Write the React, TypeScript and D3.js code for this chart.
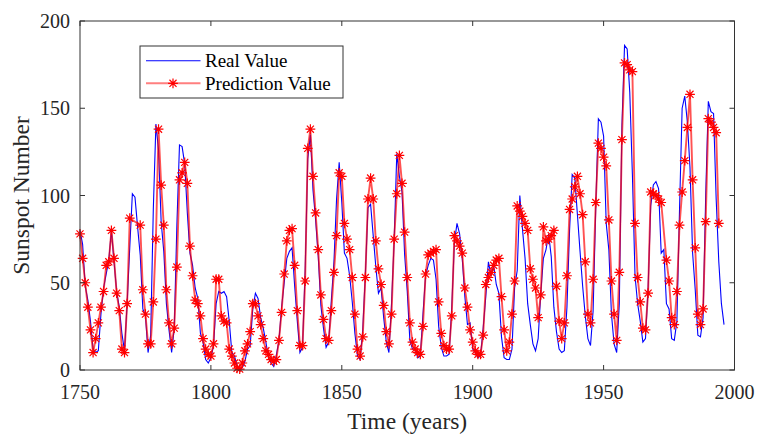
import React from 'react';
import * as d3 from 'd3';

// ---- data ----
const realStartYear = 1750;
const realValues = [
  80, 72, 48, 40, 28, 12, 10, 11, 32, 47, 55, 63, 80, 62, 45, 36, 21, 11, 38, 70,
  101, 99, 82, 66, 35, 31, 10, 20, 92, 141, 126, 85, 68, 38, 23, 10, 24, 83, 129, 128,
  118, 90, 67, 60, 47, 41, 21, 16, 6, 4, 7, 14, 38, 45, 44, 45, 42, 28, 10, 8,
  2.5, 0, 1.4, 5, 12, 14, 35, 44, 41, 30, 24, 16, 7, 4, 2, 8.5, 17, 36, 50, 64,
  68, 70, 48, 28, 10, 13, 57, 121, 135, 103, 86, 65, 37, 24, 13, 16, 40, 62, 98, 119,
  96, 67, 64, 54, 39, 21, 8, 6, 23, 55, 93, 95, 77, 59, 44, 47, 30, 16, 10, 38,
  74, 124, 111, 102, 66, 45, 17, 12, 12, 7, 8, 32, 54, 60, 64, 63, 52, 25, 13, 8,
  8, 9, 36, 73, 84, 78, 64, 42, 26, 27, 12, 10, 7, 8, 24, 42, 62, 54, 60, 49,
  44, 19, 7, 6, 6, 12, 47, 57, 100, 81, 64, 38, 26, 15, 11, 18, 44, 64, 69, 78,
  65, 36, 22, 12, 10, 11, 36, 80, 112, 110, 89, 68, 48, 31, 18, 14, 34, 93, 144, 142,
  134, 84, 69, 32, 15, 10, 38, 140, 186, 184, 159, 112, 54, 38, 28, 16, 18, 47, 94, 106,
  108, 104, 67, 69, 38, 35, 18, 17, 28, 92, 150, 157, 142, 116, 67, 46, 20, 19, 30, 100,
  154, 148, 147, 98, 62, 38, 26,
];
const realYears = realValues.map((_, i) => realStartYear + i);

const predYears = [
  1750, 1751, 1752, 1753, 1754, 1755, 1756, 1757, 1758, 1759, 1760, 1761, 1762, 1763, 1764, 1765, 1766, 1767, 1768, 1769,
  1773, 1774, 1775, 1776, 1777, 1778, 1779, 1780, 1781, 1782, 1783, 1784, 1785, 1786, 1787, 1788, 1789, 1790, 1791, 1792,
  1793, 1794, 1795, 1796, 1797, 1798, 1799, 1800, 1801, 1802, 1803, 1804, 1805, 1806, 1807, 1808, 1809, 1810, 1811, 1812,
  1813, 1814, 1815, 1816, 1817, 1818, 1819, 1820, 1821, 1822, 1823, 1824, 1825, 1826, 1827, 1828, 1829, 1830, 1831, 1832,
  1833, 1834, 1835, 1836, 1837, 1838, 1839, 1840, 1841, 1842, 1843, 1844, 1845, 1846, 1847, 1848, 1849, 1850, 1851, 1852,
  1853, 1854, 1855, 1856, 1857, 1858, 1859, 1860, 1861, 1862, 1863, 1864, 1865, 1866, 1867, 1868, 1869, 1870, 1871, 1872,
  1873, 1874, 1875, 1876, 1877, 1878, 1879, 1880, 1881, 1882, 1883, 1884, 1885, 1886, 1887, 1888, 1889, 1890, 1891, 1892,
  1893, 1894, 1895, 1896, 1897, 1898, 1899, 1900, 1901, 1902, 1903, 1904, 1905, 1906, 1907, 1908, 1909, 1910, 1911, 1912,
  1913, 1914, 1915, 1916, 1917, 1918, 1919, 1920, 1921, 1922, 1923, 1924, 1925, 1926, 1927, 1928, 1929, 1930, 1931, 1932,
  1933, 1934, 1935, 1936, 1937, 1938, 1939, 1940, 1941, 1942, 1943, 1944, 1945, 1946, 1947, 1948, 1949, 1950, 1951, 1952,
  1953, 1954, 1955, 1956, 1957, 1958, 1959, 1960, 1961, 1962, 1963, 1964, 1965, 1966, 1967, 1968, 1969, 1970, 1971, 1972,
  1974, 1975, 1976, 1977, 1978, 1979, 1980, 1981, 1982, 1983, 1984, 1985, 1986, 1987, 1988, 1989, 1990, 1991, 1992, 1993,
  1994,
];
const predValues = [
  78, 64, 50, 36, 23, 10, 18, 27, 36, 45, 60, 62, 80, 64, 44, 34, 12, 10, 38, 87,
  83, 46, 32, 15, 15, 39, 75, 138, 106, 83, 46, 27, 15, 24, 59, 109, 113, 119, 107, 71,
  54, 40, 38, 31, 18, 12, 9, 8, 15, 52, 52, 31, 28, 27, 12, 8, 4, 1, 0.5, 4,
  11, 15, 22, 38, 38, 31, 26, 18, 11, 9, 6, 5, 6, 17, 33, 55, 74, 80, 81, 60,
  34, 14, 14, 51, 127, 138, 111, 90, 69, 43, 29, 18, 17, 34, 56, 77, 113, 111, 84, 75,
  69, 53, 32, 12, 8, 19, 53, 98, 110, 98, 74, 58, 49, 37, 22, 15, 32, 75, 101, 123,
  107, 79, 53, 27, 16, 12, 10, 9, 25, 55, 66, 67, 68, 69, 39, 21, 14, 12, 12, 31,
  77, 74, 71, 67, 47, 36, 23, 16, 11, 9, 9, 20, 49, 53, 56, 60, 63, 64, 42, 23,
  11, 16, 32, 51, 94, 91, 88, 84, 80, 58, 52, 47, 30, 43, 82, 74, 75, 77, 80, 48,
  28, 18, 27, 54, 92, 98, 105, 111, 101, 89, 62, 32, 27, 52, 96, 130, 127, 122, 117, 86,
  51, 32, 17, 56, 132, 176, 175, 172, 171, 84, 53, 39, 24, 23, 44, 102, 101, 100, 98, 96,
  63, 51, 30, 26, 45, 83, 102, 120, 139, 158, 109, 70, 32, 26, 35, 85, 144, 142, 139, 136,
  84,
];

const xTicks = [1750, 1800, 1850, 1900, 1950, 2000];
const yTicks = [0, 50, 100, 150, 200];
const legendLabels = ['Real Value', 'Prediction Value'];

const FONT = "'Liberation Serif', 'Times New Roman', serif";

function starPath(r: number) {
  const d = r * 0.72;
  return `M${-r},0L${r},0M0,${-r}L0,${r}M${-d},${-d}L${d},${d}M${-d},${d}L${d},${-d}`;
}

export default function App() {
  const W = 757;
  const H = 435;
  const x = d3.scaleLinear().domain([1750, 2000]).range([80, 734.5]);
  const y = d3.scaleLinear().domain([0, 200]).range([370, 21]);

  const realData: [number, number][] = realYears.map((yr, i) => [yr, realValues[i]]);
  const predData: [number, number][] = predYears.map((yr, i) => [yr, predValues[i]]);
  const line = d3
    .line<[number, number]>()
    .x((d) => x(d[0]))
    .y((d) => y(d[1]));

  const [x0, x1] = x.range();
  const [yb, yt] = y.range();
  const tickLen = 5;
  const star = starPath(4.9);

  const legX = 140;
  const legY = 46;

  return (
    <div style={{ position: 'fixed', left: 0, top: 0, width: W, height: H, background: '#fff' }}>
      <svg width={W} height={H} viewBox={`0 0 ${W} ${H}`} style={{ display: 'block' }}>
        <rect x={0} y={0} width={W} height={H} fill="#fff" />

        {/* data */}
        <g>
          <path d={line(realData) || ''} fill="none" stroke="#0000ff" strokeWidth={1.1} />
          <path d={line(predData) || ''} fill="none" stroke="#ff0000" strokeOpacity={0.68} strokeWidth={1.9} />
          {predData.map((d, i) => (
            <path
              key={i}
              d={star}
              transform={`translate(${x(d[0])},${y(d[1])})`}
              fill="none"
              stroke="#ff0000"
              strokeWidth={1.2}
            />
          ))}
        </g>

        {/* frame */}
        <rect x={x0} y={yt} width={x1 - x0} height={yb - yt} fill="none" stroke="#333" strokeWidth={1} />

        {/* x ticks */}
        {xTicks.map((t) => (
          <g key={`xt${t}`}>
            <line x1={x(t)} x2={x(t)} y1={yb} y2={yb - tickLen} stroke="#333" />
            <line x1={x(t)} x2={x(t)} y1={yt} y2={yt + tickLen} stroke="#333" />
            <text x={x(t)} y={399} textAnchor="middle" fontFamily={FONT} fontSize={20} fill="#262626">
              {t}
            </text>
          </g>
        ))}

        {/* y ticks */}
        {yTicks.map((t) => (
          <g key={`yt${t}`}>
            <line x1={x0} x2={x0 + tickLen} y1={y(t)} y2={y(t)} stroke="#333" />
            <line x1={x1} x2={x1 - tickLen} y1={y(t)} y2={y(t)} stroke="#333" />
            <text x={70} y={y(t) + 7} textAnchor="end" fontFamily={FONT} fontSize={20} fill="#262626">
              {t}
            </text>
          </g>
        ))}

        {/* axis titles */}
        <text x={(x0 + x1) / 2} y={429} textAnchor="middle" fontFamily={FONT} fontSize={23.5} fill="#262626">
          Time (years)
        </text>
        <text
          transform={`translate(29,${(yt + yb) / 2}) rotate(-90)`}
          textAnchor="middle"
          fontFamily={FONT}
          fontSize={23.5}
          fill="#262626"
        >
          Sunspot Number
        </text>

        {/* legend */}
        <g>
          <rect x={legX} y={legY} width={203} height={52} fill="#fff" stroke="#333" strokeWidth={1} />
          <line x1={146} x2={200.5} y1={60.7} y2={60.7} stroke="#0000ff" strokeWidth={1.1} />
          <text x={205} y={67.3} fontFamily={FONT} fontSize={19} fill="#000">
            {legendLabels[0]}
          </text>
          <line x1={146} x2={200.5} y1={83.3} y2={83.3} stroke="#ff0000" strokeOpacity={0.5} strokeWidth={2} />
          <path d={star} transform={`translate(173,83.3)`} fill="none" stroke="#ff0000" strokeWidth={1.2} />
          <text x={205} y={89.9} fontFamily={FONT} fontSize={19} fill="#000">
            {legendLabels[1]}
          </text>
        </g>
      </svg>
    </div>
  );
}
